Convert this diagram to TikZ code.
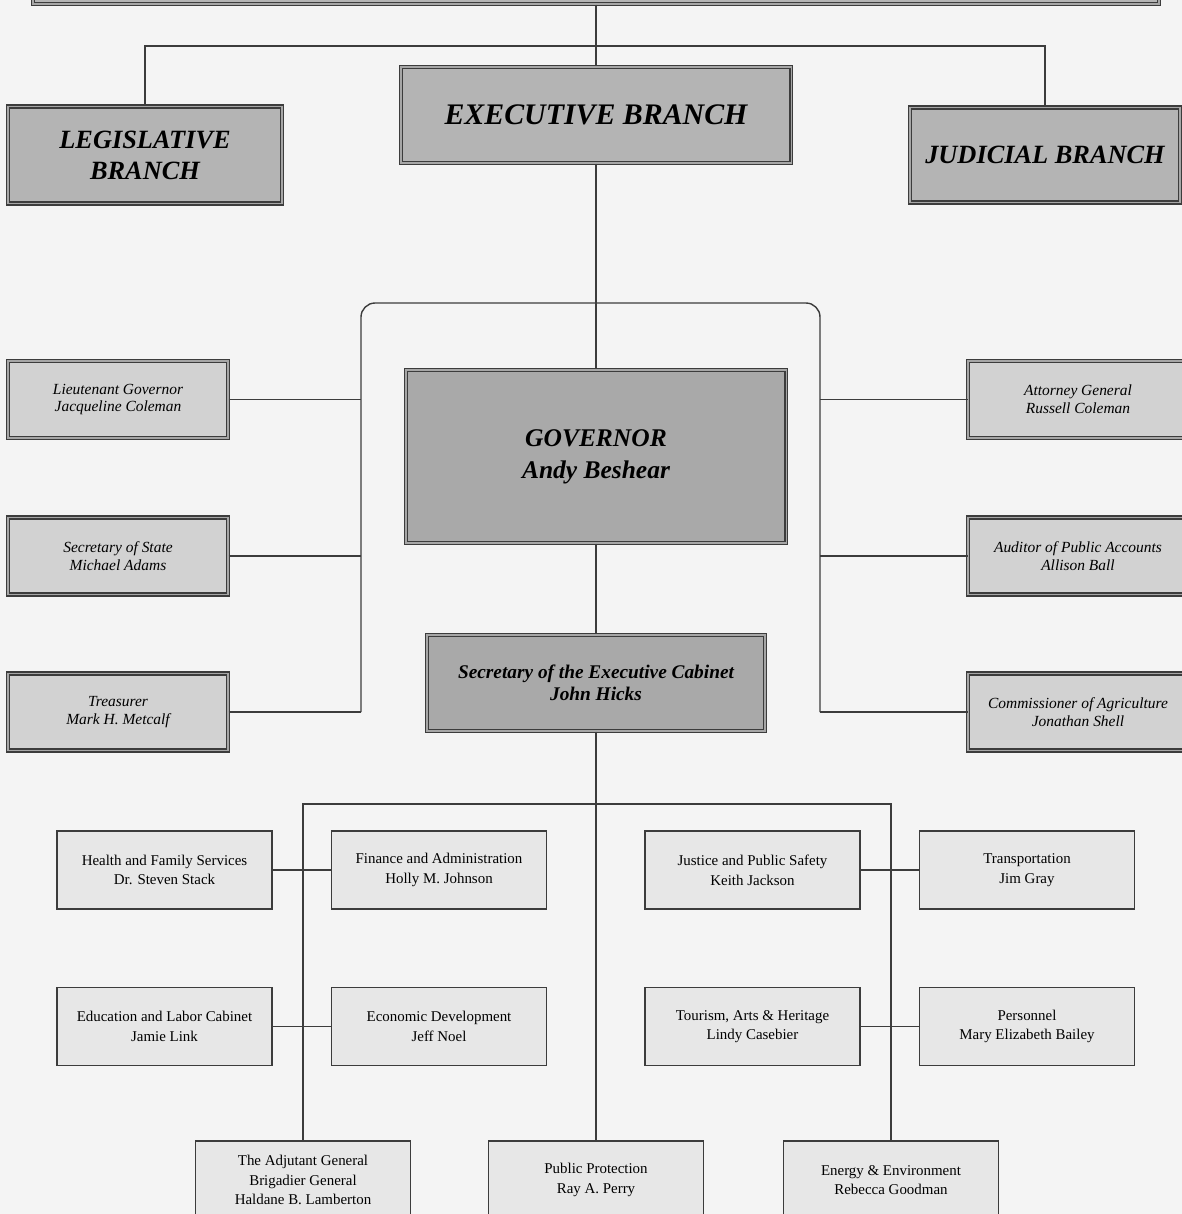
\documentclass[tikz,border=0pt]{standalone}
\usepackage{fontspec}
\setmainfont{Liberation Serif}
\definecolor{bgcol}{HTML}{F4F4F4}
\definecolor{branchfill}{HTML}{B4B4B4}
\definecolor{govfill}{HTML}{A9A9A9}
\definecolor{officefill}{HTML}{D2D2D2}
\definecolor{cabfill}{HTML}{E7E7E7}
\definecolor{linecol}{HTML}{3C3C3C}
\tikzset{
  dbl/.style={draw=linecol, line width=0.6pt, double=gray!70, double distance=1.1pt},
  branchbox/.style={dbl, fill=branchfill, align=center, font=\fontsize{15}{17.6}\selectfont\bfseries\itshape},
  officebox/.style={dbl, fill=officefill, align=center, minimum width=4.4cm, minimum height=1.54cm,
    font=\fontsize{8.8}{10.2}\selectfont\itshape},
  cabbox/.style={draw=linecol, line width=0.7pt, fill=cabfill, align=center, minimum width=4.3cm,
    minimum height=1.56cm, font=\fontsize{8.5}{11.2}\selectfont},
  conn/.style={draw=linecol, line width=0.8pt}
}
\begin{document}
\begin{tikzpicture}[x=0.02cm,y=-0.02cm]
          \useasboundingbox (0,0) rectangle (1182,1214);
          \fill[bgcol] (0,0) rectangle (1182,1214);
          \clip (0,0) rectangle (1182,1214);

          % branches
          \node[dbl, fill=branchfill, minimum width=22.54cm, minimum height=0.96cm] (state) at (596,-20) {};
          \node[branchbox, minimum width=7.82cm, minimum height=1.92cm, font=\fontsize{17}{20}\selectfont\bfseries\itshape] (exec) at (596,115) {EXECUTIVE BRANCH};
          \node[branchbox, minimum width=5.48cm, minimum height=1.94cm] (leg) at (145,155) {LEGISLATIVE\\BRANCH};
          \node[branchbox, minimum width=5.4cm, minimum height=1.9cm] (jud) at (1045,155) {JUDICIAL BRANCH};
          \coordinate (split) at (596,46);

          \draw[conn] (state) -- (exec);
          \draw[conn] (leg) |- (split) -| (jud);

          % governor and officers
          \node[dbl, fill=govfill, align=center, minimum width=7.62cm, minimum height=3.46cm,
            font=\fontsize{14.5}{18}\selectfont\bfseries\itshape] (gov) at (596,456.5) {GOVERNOR\\Andy Beshear};
          \node[officebox] (ltgov) at (118,399.5) {Lieutenant Governor\\Jacqueline Coleman};
          \node[officebox] (sos) at (118,556) {Secretary of State\\Michael Adams};
          \node[officebox] (treas) at (118,712) {Treasurer\\Mark H. Metcalf};
          \node[officebox] (ag) at (1078,399.5) {Attorney General\\Russell Coleman};
          \node[officebox] (aud) at (1078,556) {Auditor of Public Accounts\\Allison Ball};
          \node[officebox] (agri) at (1078,712) {Commissioner of Agriculture\\Jonathan Shell};
          \coordinate (bl) at (361,303);
          \coordinate (br) at (820,303);

          \draw[conn] (exec) -- (gov);
          \draw[conn, rounded corners=8] (bl |- treas) -- (bl) -- (br) -- (br |- agri);
          \foreach \n in {ltgov,sos,treas}
            \draw[conn] (\n.east) -- (\n.east -| bl);
          \foreach \n in {ag,aud,agri}
            \draw[conn] (\n.west) -- (\n.west -| br);

          % cabinet
          \node[dbl, fill=govfill, align=center, minimum width=6.76cm, minimum height=1.92cm,
            font=\fontsize{11}{12.5}\selectfont\bfseries\itshape] (sec) at (596,683) {Secretary of the Executive Cabinet\\John Hicks};
          \draw[conn] (gov) -- (sec);

          \node[cabbox] (health) at (164.5,870) {Health and Family Services\\Dr. Steven Stack};
          \node[cabbox] (fin) at (439,870) {Finance and Administration\\Holly M. Johnson};
          \node[cabbox] (just) at (752.5,870) {Justice and Public Safety\\Keith Jackson};
          \node[cabbox] (trans) at (1027,870) {Transportation\\Jim Gray};
          \node[cabbox] (edu) at (164.5,1026.5) {Education and Labor Cabinet\\Jamie Link};
          \node[cabbox] (econ) at (439,1026.5) {Economic Development\\Jeff Noel};
          \node[cabbox] (tour) at (752.5,1026.5) {Tourism, Arts \& Heritage\\Lindy Casebier};
          \node[cabbox] (pers) at (1027,1026.5) {Personnel\\Mary Elizabeth Bailey};
          \node[cabbox] (adj) at (303,1180) {The Adjutant General\\Brigadier General\\Haldane B. Lamberton};
          \node[cabbox] (prot) at (596,1180) {Public Protection\\Ray A. Perry};
          \node[cabbox] (energy) at (891,1180) {Energy \& Environment\\Rebecca Goodman};
          \coordinate (cabsplit) at (596,804);

          \draw[conn] (sec) -- (prot);
          \draw[conn] (adj) |- (cabsplit) -| (energy);
          \draw[conn] (health) -- (fin);
          \draw[conn] (edu) -- (econ);
          \draw[conn] (just) -- (trans);
          \draw[conn] (tour) -- (pers);
        \end{tikzpicture}
\end{document}
